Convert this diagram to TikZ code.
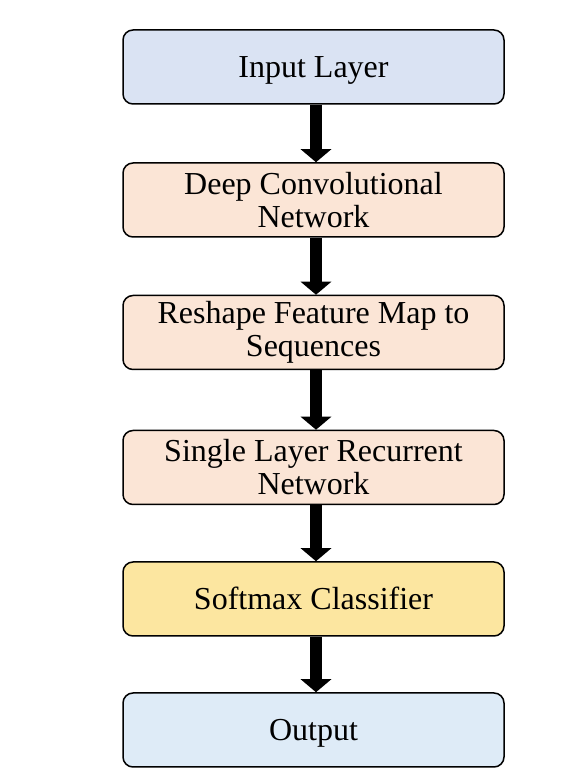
\documentclass[tikz,border=0pt]{standalone}
\usepackage{fontspec}
\setmainfont{Liberation Serif}
\usetikzlibrary{shapes,arrows,arrows.meta}

\definecolor{inBlue}{HTML}{DAE3F3}
\definecolor{outBlue}{HTML}{DEEBF7}
\definecolor{peach}{HTML}{FBE5D6}
\definecolor{gold}{HTML}{FCE6A0}

\begin{document}
\begin{tikzpicture}[x=1pt,y=1pt]
			\useasboundingbox (0,0) rectangle (566,780);
			\begin{scope}
				[
					styleLayer/.style={
						minimum width = 381pt, minimum height = 74pt,
						draw, line width = 1.5pt, rounded corners = 10pt,
						fill=#1, align=center, inner sep=0pt,
						font=\fontsize{32}{33}\selectfont
						},
					oneLine/.style={text height=29pt, text depth=7pt},
				]
				\node(input)[styleLayer=inBlue, oneLine] at (313.5,713) {Input Layer};
				\node(conv)[styleLayer=peach] at (313.5,580) {Deep Convolutional\\Network};
				\node(reshape)[styleLayer=peach] at (313.5,447.5) {Reshape Feature Map to\\Sequences};
				\node(rnn)[styleLayer=peach] at (313.5,312.5) {Single Layer Recurrent\\Network};
				\node(softmax)[styleLayer=gold, oneLine] at (313.5,181) {Softmax Classifier};
				\node(output)[styleLayer=outBlue, oneLine] at (313.5,50) {Output};
			\end{scope}
			\begin{scope}
				[ flow/.style = {line width=12pt,
				-{Triangle[width=30pt,length=13pt]}}]
				\path
				([xshift=2.5pt]input.south) edge[flow]		([xshift=2.5pt]conv.north)
				([xshift=2.5pt]conv.south) edge[flow]		([xshift=2.5pt]reshape.north)
				([xshift=2.5pt]reshape.south) edge[flow]	([xshift=2.5pt]rnn.north)
				([xshift=2.5pt]rnn.south) edge[flow]		([xshift=2.5pt]softmax.north)
				([xshift=2.5pt]softmax.south) edge[flow]	([xshift=2.5pt]output.north);
			\end{scope}
		\end{tikzpicture}
\end{document}
